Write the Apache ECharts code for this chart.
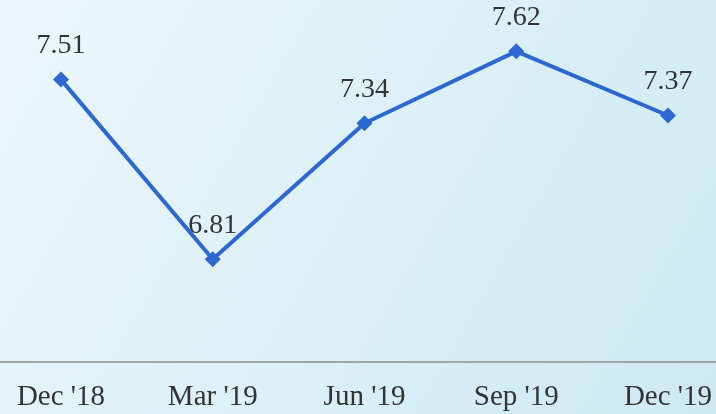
<!DOCTYPE html>
<html>
<head>
<meta charset="utf-8">
<script src="https://cdn.jsdelivr.net/npm/echarts@6/dist/echarts.min.js"></script>
<style>
html,body{margin:0;padding:0;}
#chart{width:716px;height:414px;}
</style>
</head>
<body>
<div id="chart"></div>
<script>
const categories = ["Dec '18", "Mar '19", "Jun '19", "Sep '19", "Dec '19"];
const values = [7.51, 6.81, 7.34, 7.62, 7.37];

const chart = echarts.init(document.getElementById('chart'));
const blue = '#2d68d2';
chart.setOption({
  backgroundColor: new echarts.graphic.LinearGradient(0, 0, 1, 1, [
    {offset: 0, color: '#ecf7fb'},
    {offset: 0.5, color: '#dcf0f7'},
    {offset: 1, color: '#cde9f2'}
  ]),
  animation: false,
  grid: [
    {left: 61, right: 48, top: 0, bottom: 52, containLabel: false},
    {left: 0, right: 0, top: 0, bottom: 52, containLabel: false}
  ],
  xAxis: [{
    type: 'category',
    gridIndex: 0,
    data: categories,
    boundaryGap: false,
    axisLine: {show: false},
    axisTick: {show: false},
    axisLabel: {
      margin: 21,
      fontFamily: 'Liberation Serif',
      fontSize: 29,
      color: '#333333'
    },
    splitLine: {show: false}
  }, {
    type: 'value',
    gridIndex: 1,
    min: 0,
    max: 1,
    axisLine: {show: true, onZero: false, lineStyle: {color: '#a3a6a7', width: 2}},
    axisTick: {show: false},
    axisLabel: {show: false},
    splitLine: {show: false}
  }],
  yAxis: [{
    type: 'value',
    gridIndex: 0,
    min: 6.41,
    max: 7.82,
    show: false,
    splitLine: {show: false}
  }, {
    type: 'value',
    gridIndex: 1,
    min: 0,
    max: 1,
    show: false,
    splitLine: {show: false}
  }],
  series: [{
    type: 'line',
    xAxisIndex: 0,
    yAxisIndex: 0,
    data: values,
    symbol: 'diamond',
    symbolSize: 16,
    lineStyle: {color: blue, width: 4},
    itemStyle: {color: blue},
    label: {
      show: true,
      position: 'top',
      distance: 12,
      fontFamily: 'Liberation Serif',
      fontSize: 28,
      color: '#333333',
      formatter: p => p.value.toFixed(2)
    }
  }]
});
</script>
</body>
</html>
